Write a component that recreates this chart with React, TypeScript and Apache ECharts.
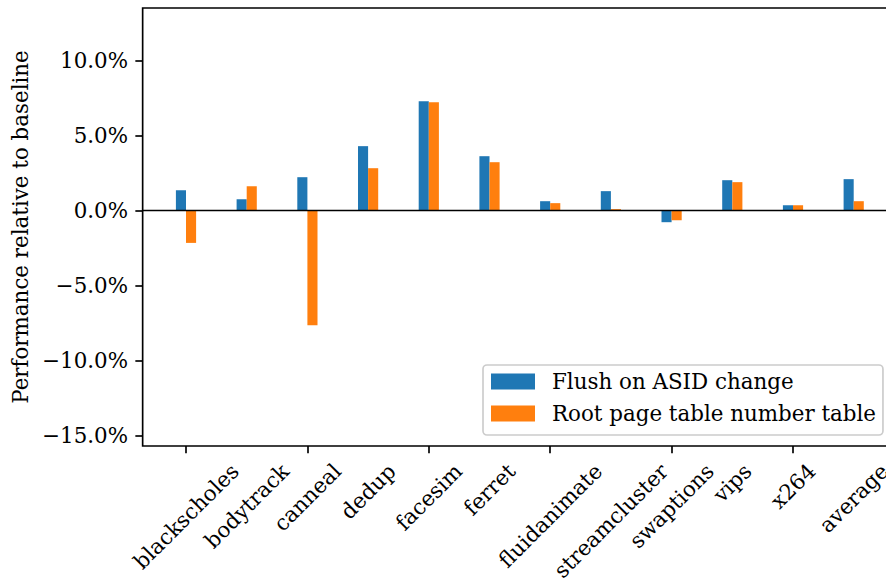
import React, { useEffect, useRef } from "react";
import * as echarts from "echarts";

// Benchmarks on the x axis
const categories = [
  "blackscholes",
  "bodytrack",
  "canneal",
  "dedup",
  "facesim",
  "ferret",
  "fluidanimate",
  "streamcluster",
  "swaptions",
  "vips",
  "x264",
  "average",
];

// Performance change relative to baseline, in percent
const flushOnAsidChange = [1.35, 0.75, 2.22, 4.29, 7.29, 3.62, 0.62, 1.29, -0.78, 2.02, 0.35, 2.09];
const rootPageTableNumberTable = [-2.16, 1.62, -7.65, 2.82, 7.22, 3.22, 0.49, 0.09, -0.65, 1.89, 0.35, 0.62];

const seriesNames = ["Flush on ASID change", "Root page table number table"];
const yTicks = [-15, -10, -5, 0, 5, 10];
const yMin = -15.7;
const yMax = 13.5;

const FONT = '"DejaVu Serif"';
const FS = 21.4;
const LINE_W = 1.67;
const TICK_LEN = 7.3;
const BLUE = "#1f77b4";
const ORANGE = "#ff7f0e";

const GRID_LEFT = 155.65;
const GRID_TOP = 8;
const GRID_W = 728.4;
const GRID_H = 438;
const SPINE_X = 142.65;

const fmtPct = (v: number) => (v < 0 ? "\u2212" : "") + Math.abs(v).toFixed(1) + "%";

export default function App() {
  const ref = useRef<HTMLDivElement>(null);

  useEffect(() => {
    if (!ref.current) return;
    const chart = echarts.init(ref.current, undefined, { renderer: "svg" });

    chart.setOption({
      animation: false,
      backgroundColor: "#ffffff",
      grid: { left: GRID_LEFT, top: GRID_TOP, width: GRID_W, height: GRID_H, containLabel: false },
      legend: {
        data: seriesNames,
        orient: "vertical",
        left: 483,
        top: 365,
        icon: "rect",
        itemWidth: 44,
        itemHeight: 16,
        itemGap: 11,
        padding: [6, 7, 11, 8],
        backgroundColor: "rgba(255,255,255,0.8)",
        borderColor: "#cccccc",
        borderWidth: LINE_W,
        borderRadius: 4,
        textStyle: {
          fontFamily: FONT,
          fontSize: FS,
          color: "#000",
          padding: [0, 0, 0, 12],
        },
      },
      xAxis: {
        type: "category",
        data: categories,
        boundaryGap: true,
        axisLine: { show: false, onZero: false },
        axisTick: {
          show: true,
          alignWithLabel: true,
          length: TICK_LEN,
          lineStyle: { color: "#000", width: LINE_W },
        },
        axisLabel: { show: false },
        splitLine: { show: false },
      },
      yAxis: {
        type: "value",
        min: yMin,
        max: yMax,
        offset: GRID_LEFT - SPINE_X,
        name: "Performance relative to baseline",
        nameLocation: "middle",
        nameRotate: 90,
        nameGap: 109,
        nameTextStyle: { fontFamily: FONT, fontSize: FS, color: "#000" },
        axisLine: { show: false },
        axisTick: {
          show: true,
          length: TICK_LEN,
          customValues: yTicks,
          lineStyle: { color: "#000", width: LINE_W },
        },
        axisLabel: {
          customValues: yTicks,
          formatter: (v: number) => fmtPct(v),
          fontFamily: FONT,
          fontSize: FS,
          color: "#000",
          margin: TICK_LEN * 2,
        },
        splitLine: { show: false },
      },
      series: [
        {
          name: seriesNames[0],
          type: "bar",
          data: flushOnAsidChange,
          barWidth: 10.1,
          barGap: "0%",
          itemStyle: { color: BLUE },
        },
        {
          name: seriesNames[1],
          type: "bar",
          data: rootPageTableNumberTable,
          barWidth: 10.1,
          barGap: "0%",
          itemStyle: { color: ORANGE },
        },
      ],
    });

    // Rotated category labels: centred under each tick, top of the rotated box aligned
    const canvas = document.createElement("canvas");
    const ctx = canvas.getContext("2d")!;
    ctx.font = `${FS}px ${FONT}`;
    const axisBottom = chart.convertToPixel({ yAxisIndex: 0 }, yMin) as number;
    const labelTop = axisBottom + TICK_LEN + TICK_LEN;
    const lineBox = FS * 0.9;
    const y0 = chart.convertToPixel({ yAxisIndex: 0 }, 0) as number;

    const labelEls = categories.map((c, i) => {
      const x = chart.convertToPixel({ xAxisIndex: 0 }, c) as number;
      const L = ctx.measureText(c).width;
      const cy = labelTop + (Math.SQRT1_2 * (L + lineBox)) / 2;
      return {
        type: "text",
        id: "xl" + i,
        x,
        y: cy,
        rotation: Math.PI / 4,
        style: {
          text: c,
          fontFamily: FONT,
          fontSize: FS,
          fill: "#000",
          align: "center",
          verticalAlign: "middle",
          textAlign: "center",
          textVerticalAlign: "middle",
        },
      };
    });

    chart.setOption({
      graphic: [
        ...labelEls,
        {
          type: "line",
          id: "zero",
          z: 5,
          shape: { x1: SPINE_X, y1: y0, x2: 900, y2: y0 },
          style: { stroke: "#000", lineWidth: LINE_W },
        },
        {
          type: "rect",
          id: "frame",
          z: 6,
          shape: { x: SPINE_X, y: GRID_TOP, width: 760, height: axisBottom - GRID_TOP },
          style: { fill: "none", stroke: "#000", lineWidth: LINE_W },
        },
      ],
    });

    return () => chart.dispose();
  }, []);

  return (
    <div
      ref={ref}
      style={{ position: "fixed", left: 0, top: 0, width: 886, height: 579, background: "#fff" }}
    />
  );
}
